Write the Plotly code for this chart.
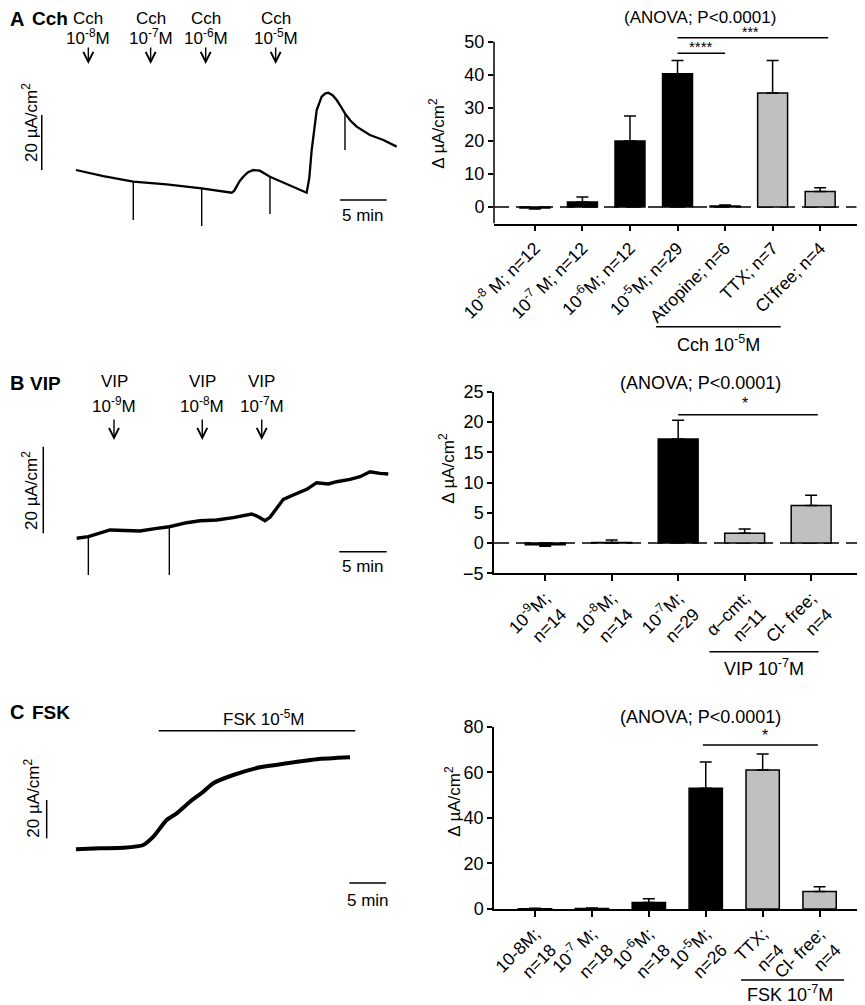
import plotly.graph_objects as go

# the page puts the figure 8px in from the top-left corner
OFF = 8
W, H = 865 - OFF, 1005 - OFF
FONT = "Liberation Sans, Arial, sans-serif"
GRAY = "#c0c0c0"

# ---------------- A: Cch recording (min, uA/cm2) ----------------
a_t = [0, 2.93, 6.14, 9.71, 13.47, 16.69, 16.95, 17.22, 17.55, 17.93, 18.4, 19.0, 19.7, 20.79,
       24.72, 25.0, 25.26, 25.8, 26.33, 26.7, 27.04, 27.5, 27.94, 28.4, 28.83, 29.4, 30.08, 31.5, 32.94, 34.37]
a_i = [0, -2.2, -4.25, -5.2, -6.65, -8.25, -7.6, -6.07, -4.0, -2.44, -0.9, 0, -0.25, -2.44,
       -8.25, -3.0, 7.27, 21.8, 26.65, 27.8, 28.1, 27.2, 25.45, 23.0, 20.6, 18.0, 15.75, 12.7, 10.9, 8.5]
a_art_t = [6.14, 13.47, 20.79, 28.83]
a_art_top = [-4.25, -6.65, -2.44, 20.6]
a_art_bot = [-18.2, -20.4, -16.0, 7.3]
a_stim_t = [1.32, 8.0, 13.9, 21.4]
a_stim_lbl = ["10<sup>-8</sup>M", "10<sup>-7</sup>M", "10<sup>-6</sup>M", "10<sup>-5</sup>M"]

# ---------------- B: VIP recording ----------------
b_t = [0, 1.23, 3.52, 6.68, 8.45, 9.78, 11.62, 13.02, 14.78, 16.54, 18.48, 19.18, 19.88, 20.41,
       21.12, 21.82, 22.87, 24.29, 25.34, 26.57, 27.45, 28.86, 29.92, 30.97, 32.03, 32.9]
b_i = [0, 0.38, 1.92, 1.69, 2.3, 2.68, 3.6, 4.06, 4.22, 4.76, 5.61, 4.99, 4.06, 4.84,
       6.93, 9.0, 10.0, 11.3, 12.84, 12.54, 13.07, 13.6, 14.23, 15.38, 15.0, 14.85]
b_art_t = [1.23, 9.78]
b_art_top = [0.38, 2.68]
b_art_bot = [-8.47, -8.47]
b_stim_t = [3.94, 13.26, 19.54]
b_stim_lbl = ["10<sup>-9</sup>M", "10<sup>-8</sup>M", "10<sup>-7</sup>M"]

# ---------------- C: FSK recording ----------------
c_t = [0, 3.27, 6.5, 9.18, 10.55, 12.37, 13.74, 15.55, 17.37, 18.73, 21.46, 25.1, 28.75, 32.84, 37.38]
c_i = [0, 0.52, 0.8, 2.24, 6.56, 15.26, 18.75, 24.8, 30.0, 34.4, 38.7, 42.7, 44.8, 46.9, 47.9]
c_fsk_t = [11.28, 38.1]

# ---------------- bar data ----------------
a_cats = ["10<sup>-8</sup> M; n=12", "10<sup>-7</sup> M; n=12", "10<sup>-6</sup>M; n=12",
          "10<sup>-5</sup>M; n=29", "Atropine; n=6", "TTX; n=7", "Cl<sup>-</sup>free; n=4"]
a_vals = [-0.3, 1.5, 20.0, 40.3, 0.3, 34.5, 4.7]
a_sem = [0.3, 1.5, 7.5, 4.0, 0.3, 9.8, 1.1]
a_cols = ["black", "black", "black", "black", GRAY, GRAY, GRAY]

b_cats = ["10<sup>-9</sup>M;<br>n=14", "10<sup>-8</sup>M;<br>n=14", "10<sup>-7</sup>M;<br>n=29",
          "α–cmt;<br>n=11", "Cl- free;<br>n=4"]
b_vals = [-0.3, 0.1, 17.2, 1.6, 6.2]
b_sem = [0.25, 0.4, 3.1, 0.7, 1.7]
b_cols = ["black", "black", "black", GRAY, GRAY]

c_cats = ["10-8M;<br>n=18", "10<sup>-7</sup> M;<br>n=18", "10<sup>-6</sup>M;<br>n=18",
          "10<sup>-5</sup>M;<br>n=26", "TTX;<br>n=4", "Cl- free;<br>n=4"]
c_vals = [0.1, 0.2, 2.8, 53.0, 61.0, 7.7]
c_sem = [0.2, 0.2, 1.7, 11.5, 7.0, 2.1]
c_cols = ["black", "black", "black", "black", GRAY, GRAY]


def px(x):
    return (x - OFF) / W


def py(y):
    return 1 - (y - OFF) / H


def spikes(ts, tops, bots):
    xs, ys = [], []
    for t, a, b in zip(ts, tops, bots):
        xs += [t, t, None]
        ys += [a, b, None]
    return xs, ys


fig = go.Figure()
annots = []
shapes = []


def text(s, x, y, size=17, bold=False, xref="paper", yref="paper", xanchor="center", angle=0):
    if bold:
        s = "<b>" + s + "</b>"
    annots.append(dict(text=s, x=x, y=y, xref=xref, yref=yref, xanchor=xanchor, yanchor="middle",
                       showarrow=False, textangle=angle, font=dict(size=size, color="black", family=FONT)))


def arrow(x, y, xref, length=22):
    annots.append(dict(text="", x=x, y=y, xref=xref, yref="paper", showarrow=True, ax=0, ay=-length,
                       arrowhead=5, arrowsize=1.4, arrowwidth=1.4, arrowcolor="black", standoff=0))


def line(x0, y0, x1, y1, xref, yref, width=1.5, dash="solid", layer="above"):
    shapes.append(dict(type="line", x0=x0, y0=y0, x1=x1, y1=y1, xref=xref, yref=yref, layer=layer,
                       line=dict(color="black", width=width, dash=dash)))


# ---------------- recording panels ----------------
# (axis id, x domain px, y domain px, x origin px, px per min, y origin px, px per uA/cm2)
rec = [("", (20, 420), (40, 250), 76, 9.33, 170, 2.75),
       ("3", (20, 420), (430, 600), 76.7, 9.47, 538.3, 4.33),
       ("5", (20, 420), (690, 920), 76, 7.33, 849.3, 1.92)]
layout_axes = {}
for ax, (x0, x1), (y0, y1), ox, sx, oy, sy in rec:
    layout_axes["xaxis" + ax] = dict(domain=[px(x0), px(x1)], range=[(x0 - ox) / sx, (x1 - ox) / sx],
                                     visible=False, anchor="y" + ax, automargin=False)
    layout_axes["yaxis" + ax] = dict(domain=[py(y1), py(y0)], range=[(oy - y1) / sy, (oy - y0) / sy],
                                     visible=False, anchor="x" + ax, automargin=False)

fig.add_trace(go.Scatter(x=a_t, y=a_i, mode="lines", line=dict(color="black", width=2.3),
                         xaxis="x", yaxis="y", showlegend=False))
sx_, sy_ = spikes(a_art_t, a_art_top, a_art_bot)
fig.add_trace(go.Scatter(x=sx_, y=sy_, mode="lines", line=dict(color="black", width=1.4),
                         xaxis="x", yaxis="y", showlegend=False))
fig.add_trace(go.Scatter(x=b_t, y=b_i, mode="lines", line=dict(color="black", width=3.4),
                         xaxis="x3", yaxis="y3", showlegend=False))
sx_, sy_ = spikes(b_art_t, b_art_top, b_art_bot)
fig.add_trace(go.Scatter(x=sx_, y=sy_, mode="lines", line=dict(color="black", width=1.4),
                         xaxis="x3", yaxis="y3", showlegend=False))
fig.add_trace(go.Scatter(x=c_t, y=c_i, mode="lines", line=dict(color="black", width=4, shape="spline", smoothing=0.6),
                         xaxis="x5", yaxis="y5", showlegend=False))

# scale bars: 20 uA/cm2 and 5 min
line(-3.67, 0, -3.67, 20, "x", "y")
line(28.3, -10.9, 33.3, -10.9, "x", "y")
line(-3.53, 1.15, -3.53, 21.15, "x3", "y3")
line(27.73, -3.1, 32.73, -3.1, "x3", "y3")
line(-4.0, 5.7, -4.0, 25.7, "x5", "y5")
line(37.3, -17.6, 42.3, -17.6, "x5", "y5")
line(c_fsk_t[0], 61.8, c_fsk_t[1], 61.8, "x5", "y5")

ua = "20 µA/cm<sup>2</sup>"
text(ua, px(30), py(123), angle=-90)
text(ua, px(30), py(491), angle=-90)
text(ua, px(31.7), py(798), angle=-90)
text("5 min", px(363.3), py(215))
text("5 min", px(363.3), py(566))
text("5 min", px(368), py(900))
text("FSK 10<sup>-5</sup>M", px(263), py(718))

# top row sits a few px lower than in the reference so it is not clipped
text("A", px(8), py(19), size=20, bold=True, xanchor="left")
text("Cch", px(30), py(19), size=19, bold=True, xanchor="left")
text("B", px(8), py(383), size=20, bold=True, xanchor="left")
text("VIP", px(28), py(383), size=19, bold=True, xanchor="left")
text("C", px(8), py(712), size=20, bold=True, xanchor="left")
text("FSK", px(30), py(712), size=19, bold=True, xanchor="left")

for t, lbl in zip(a_stim_t, a_stim_lbl):
    text("Cch", t, py(18), xref="x")
    text(lbl, t, py(37), xref="x")
    arrow(t, py(64), "x", length=18)
for t, lbl in zip(b_stim_t, b_stim_lbl):
    text("VIP", t, py(381.7), xref="x3")
    text(lbl, t, py(405), xref="x3")
    arrow(t, py(440), "x3")

# ---------------- bar panels ----------------
bars = [("2", a_cats, a_vals, a_sem, a_cols, 0.63, (494, 862), (21.9, 223.5), [-5, 56], [0, 10, 20, 30, 40, 50], [-0.86, 6.88]),
        ("4", b_cats, b_vals, b_sem, b_cols, 0.6, (494, 863), (391.7, 573.3), [-5, 25], [-5, 0, 5, 10, 15, 20, 25], [-0.77, 4.78]),
        ("6", c_cats, c_vals, c_sem, c_cols, 0.585, (494, 861.7), (726.7, 909), [0, 80], [0, 20, 40, 60, 80], [-0.72, 5.74])]
for ax, cats, vals, sem, cols, bw, (x0, x1), (y0, y1), yr, tv, xr in bars:
    up = [s if v >= 0 else 0 for v, s in zip(vals, sem)]
    dn = [s if v < 0 else 0 for v, s in zip(vals, sem)]
    fig.add_trace(go.Bar(x=cats, y=vals, width=bw, xaxis="x" + ax, yaxis="y" + ax, showlegend=False,
                         marker=dict(color=cols, line=dict(color="black", width=1.5)),
                         error_y=dict(type="data", symmetric=False, array=up, arrayminus=dn,
                                      color="black", thickness=1.5, width=6)))
    layout_axes["xaxis" + ax] = dict(domain=[px(x0), px(x1)], range=xr, anchor="y" + ax, type="category",
                                     showline=True, linecolor="black", linewidth=1.5, ticks="outside",
                                     ticklen=6, tickwidth=1.5, tickcolor="black", tickangle=-45,
                                     showgrid=False, zeroline=False, automargin=False,
                                     tickfont=dict(size=17.5, color="black", family=FONT))
    layout_axes["yaxis" + ax] = dict(domain=[py(y1), py(y0)], range=yr, anchor="x" + ax, tickvals=tv,
                                     showline=(ax != "2"), linecolor="black", linewidth=1.5, ticks="outside",
                                     ticklen=5, tickwidth=1.5, tickcolor="black", showgrid=False,
                                     zeroline=False, automargin=False,
                                     tickfont=dict(size=18, color="black", family=FONT))

# A: y axis line only up to 50
line(0, -5, 0, 50, "x2 domain", "y2")
# dashed zero lines
line(0, 0, 0.985, 0, "x2 domain", "y2", dash="15px,7px", layer="below")
line(0, 0, 0.99, 0, "x4 domain", "y4", dash="15px,7px", layer="below")

# ANOVA titles
text("(ANOVA; P<0.0001)", px(700), py(17.5), size=17)
text("(ANOVA; P<0.0001)", px(700), py(383.3), size=18)
text("(ANOVA; P<0.0001)", px(700), py(717.3), size=18)

# y titles
dua = "Δ µA/cm<sup>2</sup>"
text(dua, px(436.7), py(133), size=17, angle=-90)
text(dua, px(446.7), py(468), size=17, angle=-90)
text(dua, px(453), py(801.7), size=17, angle=-90)

# significance brackets
line(3, 46.5, 4, 46.5, "x2", "y2")
text("****", 3.49, 48.5, size=15, xref="x2", yref="y2")
line(3, 51.2, 6.17, 51.2, "x2", "y2")
text("***", 4.53, 52.9, size=14, xref="x2", yref="y2")
line(2, 21.2, 4.1, 21.2, "x4", "y4")
text("*", 3.0, 23.1, size=16, xref="x4", yref="y4")
line(2.95, 72, 4.97, 72, "x6", "y6")
text("*", 4.04, 76.3, size=16, xref="x6", yref="y6")

# group labels under the bars
line(2.55, py(326.7), 5.17, py(326.7), "x2", "paper")
text("Cch 10<sup>-5</sup>M", 3.86, py(343), size=18, xref="x2")
line(2.47, py(651.7), 4.11, py(651.7), "x4", "paper")
text("VIP 10<sup>-7</sup>M", 3.29, py(667), size=18, xref="x4")
line(3.62, py(980), 5.43, py(980), "x6", "paper")
text("FSK 10<sup>-7</sup>M", 4.48, py(993), size=18, xref="x6")

fig.update_layout(width=W, height=H, margin=dict(l=0, r=0, t=0, b=0),
                  paper_bgcolor="white", plot_bgcolor="white",
                  font=dict(family=FONT, color="black"),
                  annotations=annots, shapes=shapes, **layout_axes)
fig.write_html("out.html")
